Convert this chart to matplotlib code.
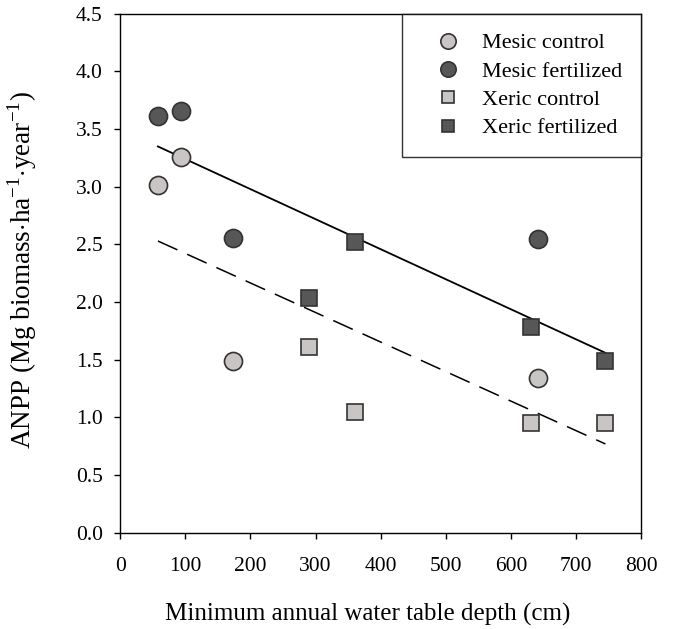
import matplotlib
matplotlib.use("Agg")
import matplotlib.pyplot as plt

plt.rcParams["font.family"] = ["Liberation Serif", "DejaVu Serif"]
plt.rcParams["mathtext.fontset"] = "custom"
plt.rcParams["mathtext.rm"] = "Liberation Serif"

# data
mesic_x = [58, 94, 174, 641]
mesic_control = [3.02, 3.26, 1.49, 1.34]
mesic_fert = [3.61, 3.66, 2.56, 2.55]
xeric_x = [290, 361, 630, 745]
xeric_control = [1.61, 1.05, 0.95, 0.95]
xeric_fert = [2.04, 2.52, 1.78, 1.49]
fit_x = [58, 745]
fert_fit = [3.35, 1.56]
control_fit = [2.53, 0.77]

light = "#c9c5c5"
dark = "#575757"
edge = "#333333"

fig = plt.figure(figsize=(6.75, 6.29), dpi=100)
ax = fig.add_axes([0.178, 0.153, 0.772, 0.825])

ax.plot(fit_x, fert_fit, color="black", lw=1.3, zorder=2)
ax.plot(fit_x, control_fit, color="black", lw=1.1, dashes=(14, 7), zorder=2)

ax.plot(mesic_x, mesic_control, "o", ms=13, mfc=light, mec=edge, mew=1.2,
        label="Mesic control", zorder=3)
ax.plot(mesic_x, mesic_fert, "o", ms=13, mfc=dark, mec=edge, mew=1.2,
        label="Mesic fertilized", zorder=3)
ax.plot(xeric_x, xeric_control, "s", ms=11, mfc=light, mec=edge, mew=1.2,
        label="Xeric control", zorder=3)
ax.plot(xeric_x, xeric_fert, "s", ms=11, mfc=dark, mec=edge, mew=1.2,
        label="Xeric fertilized", zorder=3)

ax.set_xlim(0, 800)
ax.set_ylim(0, 4.5)
ax.set_xticks(range(0, 801, 100))
ax.set_yticks([i * 0.5 for i in range(10)])
ax.set_yticklabels([f"{i * 0.5:.1f}" for i in range(10)])
ax.tick_params(direction="out", length=4.5, width=1, labelsize=15.5)
ax.tick_params(axis="x", pad=13)
ax.tick_params(axis="y", pad=8)
for s in ax.spines.values():
    s.set_linewidth(1)

ax.set_xlabel("Minimum annual water table depth (cm)", fontsize=18)
ax.xaxis.set_label_coords(0.475, -0.135)
ax.set_ylabel(r"ANPP (Mg biomass$\cdot$ha$^{\mathregular{-1}}$$\cdot$year$^{\mathregular{-1}}$)",
              fontsize=19.5)
ax.yaxis.set_label_coords(-0.155, 0.507)

leg = ax.legend(loc="upper right", borderaxespad=0, fancybox=False,
                edgecolor="black", fontsize=16, frameon=True,
                borderpad=0.85, handletextpad=0.34, labelspacing=0.35,
                handlelength=2.43, markerscale=0.85)
leg.get_frame().set_linewidth(1)

fig.savefig("out.png", dpi=100)
